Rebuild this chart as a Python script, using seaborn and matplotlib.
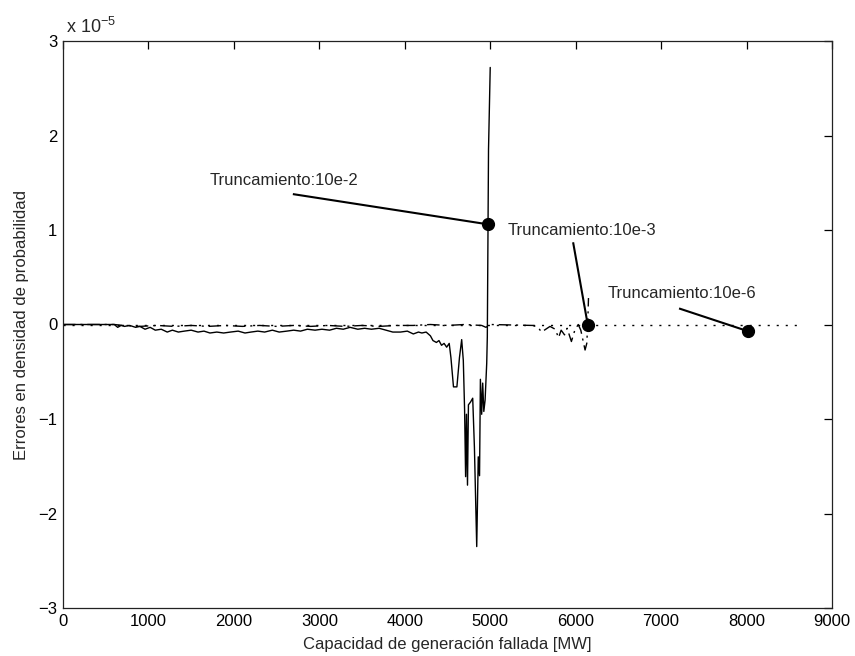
import numpy as np
import pandas as pd
import matplotlib
matplotlib.use("Agg")
import matplotlib.pyplot as plt
from matplotlib.ticker import FuncFormatter, MultipleLocator
import seaborn as sns

SCALE = 1e-5  # y values below are given in units of 1e-5

# Truncation 10e-2 (solid line)
cap_t2 = [0, 600, 640, 680, 720, 780, 850, 900, 960, 1020, 1080, 1150, 1220, 1280,
          1350, 1420, 1500, 1580, 1650, 1720, 1800, 1880, 1960, 2050, 2130, 2200,
          2280, 2360, 2450, 2530, 2620, 2700, 2780, 2860, 2950, 3030, 3120, 3200,
          3280, 3360, 3450, 3530, 3610, 3700, 3780, 3860, 3950, 4030, 4100, 4160,
          4200, 4250, 4300, 4330, 4370, 4400, 4430, 4460, 4490, 4520, 4540, 4570,
          4610, 4640, 4666, 4685, 4700, 4712, 4722, 4734, 4745, 4770, 4795, 4815,
          4842, 4860, 4875, 4885, 4900, 4912, 4925, 4940, 4959, 4966, 4980, 5000]
err_t2 = [0, 0, -0.03, -0.01, -0.02, -0.01, -0.03, -0.02, -0.05, -0.03, -0.06, -0.05,
          -0.08, -0.06, -0.08, -0.07, -0.06, -0.08, -0.07, -0.09, -0.08, -0.09, -0.08,
          -0.07, -0.09, -0.08, -0.07, -0.08, -0.06, -0.08, -0.07, -0.06, -0.07, -0.05,
          -0.06, -0.05, -0.06, -0.04, -0.05, -0.03, -0.05, -0.04, -0.05, -0.04, -0.06,
          -0.08, -0.08, -0.07, -0.10, -0.08, -0.09, -0.08, -0.12, -0.17, -0.19, -0.17,
          -0.22, -0.20, -0.24, -0.20, -0.35, -0.66, -0.66, -0.35, -0.16, -0.38, -0.90,
          -1.61, -0.95, -1.70, -0.85, -0.82, -0.78, -1.30, -2.35, -1.40, -1.60, -0.58,
          -0.95, -0.62, -0.92, -0.80, -0.41, -0.13, 1.85, 2.72]

# Truncation 10e-3 (dash-dot line)
cap_t3 = [0, 600, 700, 900, 1100, 1300, 1500, 1700, 1900, 2100, 2300, 2500, 2700,
          2900, 3100, 3300, 3500, 3700, 3900, 4100, 4300, 4500, 4700, 4900, 4950,
          5000, 5500, 5560, 5600, 5650, 5700, 5760, 5800, 5830, 5870, 5900, 5950,
          5990, 6030, 6060, 6110, 6130, 6141, 6150]
err_t3 = [0, 0, -0.01, -0.02, -0.01, -0.02, -0.01, -0.02, -0.01, -0.02, -0.01,
          -0.02, -0.01, -0.02, -0.01, -0.02, -0.01, -0.02, -0.01, -0.01, 0.0, -0.01,
          0.0, -0.01, -0.03, 0.0, -0.01, -0.03, -0.08, -0.05, -0.02, -0.05, -0.14,
          -0.06, -0.11, -0.04, -0.18, -0.06, 0.0, -0.06, -0.27, -0.20, 0.0, 0.28]

# Truncation 10e-6 (dotted line)
cap_t6 = [0, 8660]
err_t6 = [0.0, 0.0]

# Annotations: label, text anchor, leader start, marked point
ann_labels = ["Truncamiento:10e-2", "Truncamiento:10e-3", "Truncamiento:10e-6"]
ann_text_x = [1720, 5200, 6370]
ann_text_y = [1.52, 0.99, 0.33]
ann_lead_x = [2690, 5970, 7210]
ann_lead_y = [1.38, 0.87, 0.17]
ann_pt_x = [4974, 6141, 8013]
ann_pt_y = [1.06, 0.0, -0.07]

sns.set_style("white")
plt.rcParams["font.family"] = ["Liberation Sans", "DejaVu Sans"]
plt.rcParams["mathtext.fontset"] = "custom"
plt.rcParams["mathtext.rm"] = "Liberation Sans"
plt.rcParams["mathtext.it"] = "Liberation Sans"

fig = plt.figure(figsize=(8.55, 6.56), dpi=100)
ax = fig.add_axes([63 / 855, 48 / 656, 769 / 855, 567 / 656])

frames = [
    (cap_t2, err_t2, "-"),
    (cap_t3, err_t3, (0, (9, 3.5, 1.5, 3.5))),
    (cap_t6, err_t6, (0, (1.5, 5))),
]
for xs, ys, ls in frames:
    df = pd.DataFrame({"cap": xs, "err": np.array(ys) * SCALE})
    sns.lineplot(data=df, x="cap", y="err", ax=ax, color="black", lw=1.0,
                 linestyle=ls, sort=False, estimator=None)

for lab, tx, ty, lx, ly, px, py in zip(ann_labels, ann_text_x, ann_text_y,
                                       ann_lead_x, ann_lead_y, ann_pt_x, ann_pt_y):
    ax.plot([lx, px], [ly * SCALE, py * SCALE], color="black", lw=1.5,
            solid_capstyle="butt")
    ax.plot([px], [py * SCALE], "o", color="black", markersize=8.5)
    ax.text(tx, ty * SCALE, lab, fontsize=12, va="center", ha="left")

ax.set_xlim(0, 9000)
ax.set_ylim(-3 * SCALE, 3 * SCALE)
ax.xaxis.set_major_locator(MultipleLocator(1000))
ax.yaxis.set_major_locator(MultipleLocator(SCALE))
ax.xaxis.set_major_formatter(FuncFormatter(lambda v, p: f"{v:.0f}"))
ax.yaxis.set_major_formatter(
    FuncFormatter(lambda v, p: f"{round(v / SCALE):d}".replace("-", "\u2212")))
ax.tick_params(direction="in", length=6, width=0.9, labelsize=12, pad=4,
               top=True, right=True, colors="black")
for sp in ax.spines.values():
    sp.set_color("#222222")
    sp.set_linewidth(0.9)

ax.set_xlabel("Capacidad de generación fallada [MW]", fontsize=12, labelpad=6)
ax.set_ylabel("Errores en densidad de probabilidad", fontsize=12, labelpad=7)
ax.annotate("x 10$^{\u22125}$", xy=(0, 1), xycoords="axes fraction",
            xytext=(2, 3), textcoords="offset points", fontsize=13,
            ha="left", va="bottom")

fig.savefig("out.png", dpi=100)
